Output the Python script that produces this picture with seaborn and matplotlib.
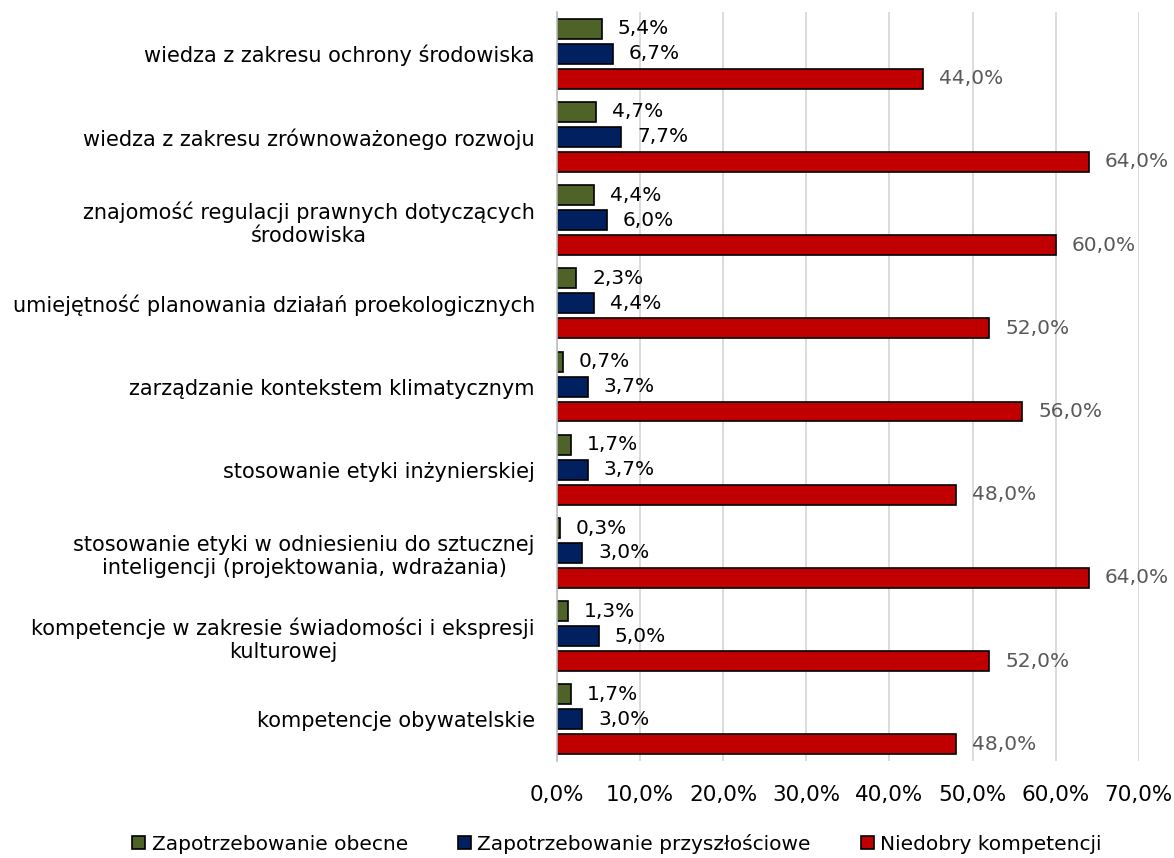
import matplotlib
matplotlib.use("Agg")
import matplotlib.pyplot as plt
import seaborn as sns
import pandas as pd

categories = [
    "wiedza z zakresu ochrony środowiska",
    "wiedza z zakresu zrównoważonego rozwoju",
    "znajomość regulacji prawnych dotyczących\nśrodowiska",
    "umiejętność planowania działań proekologicznych",
    "zarządzanie kontekstem klimatycznym",
    "stosowanie etyki inżynierskiej",
    "stosowanie etyki w odniesieniu do sztucznej\ninteligencji (projektowania, wdrażania)",
    "kompetencje w zakresie świadomości i ekspresji\nkulturowej",
    "kompetencje obywatelskie",
]
series = ["Zapotrzebowanie obecne", "Zapotrzebowanie przyszłościowe", "Niedobry kompetencji"]
current_demand = [5.4, 4.7, 4.4, 2.3, 0.7, 1.7, 0.3, 1.3, 1.7]
future_demand = [6.7, 7.7, 6.0, 4.4, 3.7, 3.7, 3.0, 5.0, 3.0]
skill_gaps = [44.0, 64.0, 60.0, 52.0, 56.0, 48.0, 64.0, 52.0, 48.0]
colors = ["#4F6228", "#002060", "#C00000"]
label_colors = ["#000000", "#000000", "#595959"]
xticks = [0, 10, 20, 30, 40, 50, 60, 70]

rows = []
for name, vals in zip(series, [current_demand, future_demand, skill_gaps]):
    for cat, v in zip(categories, vals):
        rows.append({"kategoria": cat, "seria": name, "wartosc": v})
df = pd.DataFrame(rows)

sns.set_theme(style="white")
plt.rcParams["font.family"] = ["DejaVu Sans"]
plt.rcParams["text.color"] = "black"

fig, ax = plt.subplots(figsize=(11.74, 8.58), dpi=100)
fig.subplots_adjust(left=0.4745, right=0.97, top=0.986, bottom=0.113)

sns.barplot(data=df, y="kategoria", x="wartosc", hue="seria", order=categories,
            hue_order=series, palette=colors, saturation=1, orient="h", width=0.9, gap=0.2,
            edgecolor="black", linewidth=1.2, ax=ax, legend=True)

for container, lc in zip(ax.containers, label_colors):
    ax.bar_label(container, labels=[f"{v:.1f}%".replace(".", ",") for v in container.datavalues],
                 padding=11.5, fontsize=14.5, color=lc)

ax.set_xlim(0, 70)
ax.set_xticks(xticks)
ax.set_xticklabels([f"{t:.1f}%".replace(".", ",") for t in xticks], fontsize=15.5)
ax.tick_params(axis="y", labelsize=15, length=0, pad=16, labelcolor="black")
ax.tick_params(axis="x", length=0, pad=17, labelcolor="black")
for lbl in ax.get_yticklabels():
    lbl.set_horizontalalignment("right")
    lbl.set_multialignment("center")
ax.set_xlabel("")
ax.set_ylabel("")
ax.xaxis.grid(True, color="#D9D9D9", linewidth=1.3)
ax.set_axisbelow(True)
for s in ["top", "right", "bottom"]:
    ax.spines[s].set_visible(False)
ax.spines["left"].set_color("#BFBFBF")
ax.spines["left"].set_linewidth(1.2)

handles, labels = ax.get_legend_handles_labels()
ax.legend_.remove()
fig.legend(handles, labels, loc="lower center", bbox_to_anchor=(0.5256, -0.016), ncol=3,
           frameon=False, fontsize=14.5, handlelength=0.65, handleheight=0.65,
           handletextpad=0.3, columnspacing=2.5)

fig.savefig("out.png", dpi=100)
